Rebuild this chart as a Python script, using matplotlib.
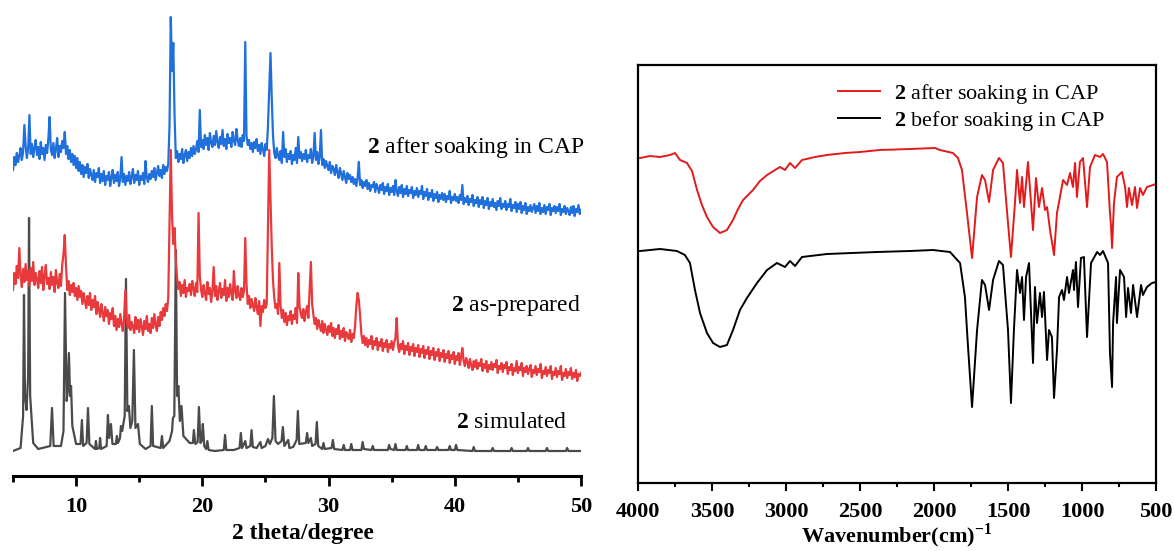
import numpy as np
import matplotlib
matplotlib.use("Agg")
import matplotlib.pyplot as plt
from matplotlib.ticker import MultipleLocator

plt.rcParams['font.family'] = ['Liberation Serif', 'DejaVu Serif']
plt.rcParams['mathtext.fontset'] = 'custom'
plt.rcParams['mathtext.rm'] = 'Liberation Serif'
plt.rcParams['mathtext.bf'] = 'Liberation Serif:bold'

# ---- PXRD (left) ----
two_theta = np.round(np.arange(5.0, 50.001, 0.1), 2)

# one row per degree (x.0 ... x.9)
after_cap = [
    306, 319, 311, 323, 314, 320, 328, 316, 324, 351,
    330, 318, 327, 361, 322, 332, 319, 328, 336, 321,
    329, 317, 334, 322, 328, 316, 331, 323, 337, 359,
    326, 321, 333, 318, 327, 338, 319, 330, 324, 335,
    328, 344, 322, 330, 317, 326, 314, 322, 311, 320,
    308, 318, 305, 314, 302, 311, 299, 309, 303, 312,
    298, 307, 301, 296, 306, 294, 303, 299, 308, 293,
    302, 295, 305, 291, 300, 296, 304, 290, 299, 306,
    293, 301, 295, 304, 290, 298, 319, 294, 302, 291,
    300, 295, 304, 292, 299, 307, 293, 301, 296, 305,
    291, 300, 296, 303, 292, 315, 298, 294, 302, 297,
    305, 299, 308, 296, 303, 310, 300, 306, 298, 311,
    302, 309, 305, 312, 350, 459, 405, 433, 360, 318,
    325, 314, 322, 317, 327, 313, 321, 326, 315, 324,
    318, 328, 320, 330, 322, 327, 335, 324, 366, 329,
    336, 327, 341, 331, 338, 326, 343, 333, 329, 340,
    331, 345, 334, 328, 339, 332, 346, 330, 337, 327,
    342, 333, 338, 329, 344, 335, 331, 347, 336, 330,
    338, 329, 341, 335, 434, 340, 331, 336, 327, 333,
    324, 334, 328, 337, 325, 331, 322, 333, 327, 320,
    332, 326, 350, 385, 423, 378, 340, 323, 318, 328,
    320, 316, 325, 313, 344, 319, 327, 314, 322, 317,
    325, 312, 321, 316, 328, 313, 339, 318, 324, 315,
    322, 317, 326, 314, 321, 318, 327, 313, 320, 343,
    316, 324, 312, 319, 346, 311, 317, 308, 315, 310,
    306, 314, 303, 310, 307, 301, 311, 304, 298, 308,
    302, 296, 305, 299, 293, 303, 297, 301, 294, 299,
    292, 297, 290, 298, 314, 291, 296, 288, 294, 290,
    296, 287, 293, 285, 291, 289, 294, 284, 292, 288,
    283, 291, 286, 293, 282, 289, 285, 292, 281, 288,
    284, 290, 281, 296, 285, 280, 289, 283, 291, 279,
    287, 282, 290, 280, 286, 283, 289, 278, 285, 281,
    288, 279, 285, 282, 290, 277, 284, 280, 287, 276,
    283, 279, 286, 275, 282, 278, 284, 274, 281, 277,
    283, 276, 282, 274, 280, 277, 285, 273, 279, 276,
    282, 275, 279, 273, 281, 276, 291, 272, 278, 274,
    280, 271, 277, 274, 281, 270, 276, 273, 279, 269,
    276, 272, 279, 268, 275, 271, 278, 267, 274, 270,
    277, 269, 273, 266, 275, 270, 278, 267, 272, 269,
    275, 266, 272, 269, 277, 265, 271, 268, 274, 264,
    272, 267, 274, 263, 270, 266, 273, 262, 269, 265,
    271, 264, 268, 272, 263, 270, 265, 273, 262, 268,
    264, 271, 262, 269, 266, 272, 261, 268, 265, 270,
    263, 269, 265, 272, 261, 267, 264, 270, 262, 268,
    265, 261, 269, 263, 270, 260, 267, 264, 271, 262,
    266,
]

as_prepared = [
    186, 203, 192, 210, 198, 228, 201, 189, 207, 194,
    212, 196, 205, 190, 208, 195, 214, 191, 203, 197,
    188, 205, 193, 209, 186, 200, 211, 192, 198, 187,
    204, 191, 199, 184, 206, 193, 188, 202, 190, 211,
    222, 241, 210, 186, 195, 181, 191, 184, 193, 180,
    188, 176, 190, 179, 185, 172, 183, 175, 168, 180,
    171, 183, 166, 176, 169, 180, 162, 174, 167, 159,
    172, 163, 155, 169, 160, 166, 152, 163, 157, 168,
    150, 160, 146, 157, 149, 162, 152, 145, 158, 186,
    155, 148, 161, 146, 154, 150, 143, 159, 147, 156,
    144, 157, 149, 141, 155, 147, 160, 145, 152, 143,
    158, 148, 162, 151, 145, 159, 150, 164, 156, 168,
    160, 172, 165, 178, 250, 326, 260, 232, 248, 215,
    198, 187, 194, 180, 191, 183, 196, 179, 188, 185,
    192, 181, 195, 187, 180, 193, 184, 263, 200, 186,
    179, 191, 183, 176, 194, 182, 188, 174, 186, 209,
    180, 190, 176, 185, 193, 178, 187, 181, 196, 175,
    188, 179, 192, 183, 176, 205, 185, 178, 190, 181,
    176, 188, 179, 185, 238, 192, 172, 180, 168, 177,
    171, 165, 178, 169, 162, 175, 150, 170, 164, 176,
    168, 172, 250, 326, 276, 229, 195, 178, 168, 172,
    162, 213, 170, 158, 166, 154, 163, 151, 160, 156,
    165, 152, 161, 157, 168, 153, 203, 170, 162, 158,
    167, 155, 164, 170, 158, 186, 214, 172, 161, 152,
    158, 147, 156, 150, 145, 155, 143, 152, 146, 141,
    150, 144, 153, 140, 148, 138, 147, 142, 151, 137,
    145, 139, 148, 135, 144, 140, 137, 146, 134, 142,
    138, 150, 170, 183, 176, 160, 142, 133, 140, 131,
    138, 129, 136, 132, 140, 127, 135, 131, 138, 126,
    134, 130, 137, 125, 133, 129, 136, 124, 132, 128,
    135, 126, 133, 138, 158, 130, 124, 132, 127, 135,
    122, 130, 126, 133, 121, 129, 125, 132, 120, 128,
    124, 131, 119, 127, 123, 130, 118, 126, 122, 129,
    117, 125, 121, 128, 116, 124, 120, 127, 115, 123,
    119, 126, 114, 122, 118, 125, 113, 121, 117, 124,
    112, 120, 116, 123, 111, 119, 128, 115, 110, 118,
    114, 108, 117, 111, 106, 115, 109, 116, 107, 113,
    110, 117, 105, 112, 108, 115, 104, 111, 107, 114,
    106, 112, 109, 116, 103, 110, 107, 113, 104, 111,
    108, 114, 102, 109, 106, 112, 101, 108, 105, 115,
    103, 109, 106, 113, 100, 108, 104, 110, 102, 107,
    111, 99, 106, 103, 110, 101, 107, 104, 112, 98,
    105, 102, 109, 100, 106, 103, 110, 97, 104, 101,
    108, 99, 105, 102, 110, 96, 103, 100, 107, 98,
    104, 101, 108, 97, 103, 99, 106, 95, 102, 100,
    103,
]

sim_x = [5.0, 5.6, 5.8, 5.87, 5.95, 6.07, 6.2, 6.27, 6.36, 6.6, 7.0,
         7.95, 8.09, 8.22, 8.8, 9.0, 9.12, 9.25, 9.33, 9.43, 9.52, 9.6, 9.7, 10.0,
         10.35, 10.46, 10.56, 10.83, 10.94, 11.05, 11.5, 11.57, 11.65, 11.83, 11.9, 11.98,
         12.42, 12.52, 12.62, 12.76, 12.88, 13.15, 13.23, 13.32, 13.48, 13.55, 13.65,
         13.85, 13.95, 14.06, 14.18, 14.3, 14.45, 14.58, 14.7, 14.9, 15.05, 15.5,
         15.9, 16.0, 16.1, 16.7, 16.8, 16.9, 17.4, 17.6, 17.67, 17.78, 17.9, 18.0,
         18.1, 18.22, 18.35, 18.5, 19.0, 19.25, 19.33, 19.45, 19.63, 19.73, 19.85,
         19.95, 20.04, 20.15, 20.3, 20.4, 20.5, 21.0, 21.7, 21.8, 21.9, 22.5,
         22.95, 23.05, 23.15, 23.4, 23.5, 23.8, 23.9, 24.0, 24.3, 24.6, 24.7,
         25.0, 25.2, 25.35, 25.55, 25.67, 25.8, 26.0, 26.28, 26.38, 26.5, 26.8,
         26.9, 27.2, 27.47, 27.57, 27.68, 28.2, 28.3, 28.4, 28.6, 28.7, 28.97,
         29.07, 29.18, 29.5, 29.6, 29.7, 30.24, 30.34, 30.45,
         31.1, 31.2, 31.3, 31.7, 31.8, 31.9, 32.6, 32.7, 32.8, 33.4, 33.5, 33.6,
         34.7, 34.8, 34.9, 35.2, 35.3, 35.4, 36.1, 36.2, 36.3, 37.0, 37.1, 37.2,
         37.6, 37.7, 37.8, 38.5, 38.6, 38.7, 39.5, 39.6, 39.7, 40.0, 40.1, 40.2,
         41.4, 41.5, 41.6, 42.9, 43.0, 43.1, 44.4, 44.5, 44.6, 45.7, 45.8, 45.9,
         47.2, 47.3, 47.4, 48.8, 48.9, 49.0, 50.0]
sim_y = [25, 28, 60, 181, 80, 66, 100, 258, 80, 33, 27,
         30, 68, 30, 30, 45, 183, 75, 85, 123, 80, 90, 50, 32,
         32, 56, 30, 33, 68, 32, 27, 35, 27, 28, 38, 27,
         30, 61, 38, 52, 32, 32, 40, 33, 38, 50, 45,
         60, 197, 65, 70, 48, 55, 126, 48, 52, 32, 27,
         30, 70, 30, 28, 40, 28, 35, 45, 58, 60, 226, 80,
         90, 55, 70, 40, 33, 33, 46, 32, 34, 69, 33,
         35, 52, 30, 27, 35, 26, 25, 26, 41, 26, 26,
         28, 43, 28, 35, 28, 30, 46, 29, 28, 34, 28,
         30, 37, 32, 38, 80, 35, 32, 35, 49, 30, 36,
         28, 29, 36, 65, 32, 33, 43, 33, 38, 30, 32,
         54, 30, 27, 33, 27, 28, 36, 27,
         26, 31, 26, 26, 32, 26, 26, 34, 27, 26, 30, 26,
         26, 31, 27, 26, 32, 26, 26, 30, 26, 26, 31, 26,
         26, 30, 26, 26, 29, 26, 26, 30, 26, 26, 31, 26,
         25, 29, 25, 25, 28, 25, 25, 28, 25, 25, 28, 25,
         25, 28, 25, 25, 28, 25, 25]

# ---- FT-IR (right) ----
ir_red_wn = [3986, 3919, 3851, 3784, 3750, 3716, 3669, 3635, 3601, 3568, 3534, 3493,
             3446, 3399, 3358, 3324, 3290, 3223, 3176, 3128, 3074, 3040, 3007, 2973,
             2939, 2892, 2804, 2723, 2601, 2500, 2365, 2162, 1993, 1960, 1872, 1838,
             1811, 1777, 1743, 1709, 1676, 1655, 1628, 1601, 1561, 1534, 1500, 1480,
             1453, 1439, 1419, 1405, 1392, 1365, 1331, 1311, 1291, 1270, 1250, 1236,
             1216, 1189, 1169, 1149, 1128, 1101, 1081, 1061, 1047, 1034, 1014, 993,
             966, 946, 912, 878, 858, 831, 811, 804, 797, 784, 764, 730, 709, 696,
             683, 662, 642, 628, 608, 588, 561, 520, 500]
ir_red_t = [325, 327, 326, 328, 330, 323, 320, 312, 293, 278, 266, 256,
            250, 253, 263, 274, 283, 293, 302, 308, 313, 316, 313, 320,
            315, 323, 326, 328, 330, 331, 333, 334, 335, 333, 330, 325,
            313, 270, 225, 286, 308, 303, 281, 313, 325, 320, 260, 226,
            280, 313, 280, 306, 276, 321, 253, 305, 276, 295, 273, 276,
            253, 228, 270, 286, 303, 298, 310, 296, 320, 286, 321, 325,
            276, 316, 328, 326, 329, 321, 270, 257, 235, 280, 306, 311, 296, 276,
            295, 278, 296, 275, 295, 288, 296, 298, 299]

ir_black_wn = [3986, 3851, 3737, 3683, 3649, 3615, 3581, 3534, 3493, 3446, 3399, 3358,
               3311, 3264, 3196, 3128, 3061, 3007, 2973, 2939, 2892, 2723, 2385, 2162,
               2007, 1892, 1824, 1791, 1770, 1743, 1709, 1676, 1655, 1628, 1601, 1561,
               1534, 1500, 1480, 1460, 1439, 1419, 1405, 1392, 1378, 1358, 1331, 1318,
               1304, 1284, 1270, 1257, 1236, 1223, 1203, 1189, 1169, 1155, 1135, 1122,
               1101, 1088, 1061, 1054, 1041, 1027, 1007, 987, 966, 939, 898, 878, 858,
               824, 811, 797, 790, 770, 764, 743, 716, 702, 689, 669, 655, 628, 601,
               588, 561, 527, 500]
ir_black_t = [232, 234, 232, 228, 220, 193, 170, 150, 140, 136, 138, 153,
              173, 185, 200, 213, 220, 216, 222, 217, 226, 229, 231, 232,
              233, 231, 220, 186, 136, 76, 153, 203, 198, 173, 203, 222,
              218, 153, 80, 153, 213, 190, 206, 163, 206, 220, 120, 196,
              160, 190, 166, 191, 123, 153, 146, 85, 133, 186, 193, 183,
              206, 190, 213, 193, 221, 176, 225, 226, 146, 220, 231, 228, 232,
              220, 130, 96, 160, 206, 160, 213, 206, 166, 195, 170, 198, 166, 198,
              188, 196, 200, 201]

fig = plt.figure(figsize=(11.74, 5.51), dpi=100)

# left panel
ax1 = fig.add_axes([13 / 1174, 75 / 551, 568 / 1174, 466 / 551])
ax1.plot(sim_x, sim_y, color='#4a4a4a', lw=1.6)
ax1.plot(two_theta, as_prepared, color='#e8393d', lw=1.6)
ax1.plot(two_theta, after_cap, color='#1f6fdc', lw=1.6)
ax1.set_xlim(5, 50)
ax1.set_ylim(0, 466)
for s in ['top', 'left', 'right']:
    ax1.spines[s].set_visible(False)
ax1.spines['bottom'].set_linewidth(2.2)
ax1.set_yticks([])
ax1.xaxis.set_major_locator(MultipleLocator(10))
ax1.xaxis.set_minor_locator(MultipleLocator(5))
ax1.tick_params(axis='x', which='major', direction='out', length=7, width=2, pad=8)
ax1.tick_params(axis='x', which='minor', direction='out', length=4, width=2)
for lab in ax1.get_xticklabels():
    lab.set_fontweight('bold')
    lab.set_fontsize(16)
ax1.set_xlabel('2 theta/degree', fontsize=17, fontweight='bold')
ax1.xaxis.set_label_coords(0.51, -0.1)
ax1.text(50.3, 328, r'$\mathbf{2}$ after soaking in CAP', fontsize=17, ha='right', va='center')
ax1.text(49.95, 171, r'$\mathbf{2}$ as-prepared', fontsize=17, ha='right', va='center')
ax1.text(48.9, 53, r'$\mathbf{2}$ simulated', fontsize=17, ha='right', va='center')

# right panel
ax2 = fig.add_axes([638 / 1174, 68 / 551, 518 / 1174, 418 / 551])
ax2.plot(ir_red_wn, ir_red_t, color='#e31a1c', lw=1.4, label=r'$\mathbf{2}$ after soaking in CAP')
ax2.plot(ir_black_wn, ir_black_t, color='black', lw=1.4, label=r'$\mathbf{2}$ befor soaking in CAP')
ax2.set_xlim(4000, 500)
ax2.set_ylim(0, 418)
ax2.set_yticks([])
for s in ax2.spines.values():
    s.set_linewidth(1.6)
ax2.xaxis.set_major_locator(MultipleLocator(500))
ax2.xaxis.set_minor_locator(MultipleLocator(250))
ax2.tick_params(axis='x', which='major', direction='out', length=6, width=1.5, pad=8)
ax2.tick_params(axis='x', which='minor', direction='out', length=3, width=1.5)
for lab in ax2.get_xticklabels():
    lab.set_fontweight('bold')
    lab.set_fontsize(16)
ax2.set_xlabel(r'Wavenumber(cm)$^{\mathbf{-1}}$', fontsize=16, fontweight='bold')
ax2.xaxis.set_label_coords(0.5, -0.092)
ax2.legend(loc='upper left', bbox_to_anchor=(0.386, 0.96), frameon=False, fontsize=16,
           handlelength=1.9, handletextpad=0.6, labelspacing=0.15,
           borderpad=0, borderaxespad=0)

fig.savefig('out.png', dpi=100)
